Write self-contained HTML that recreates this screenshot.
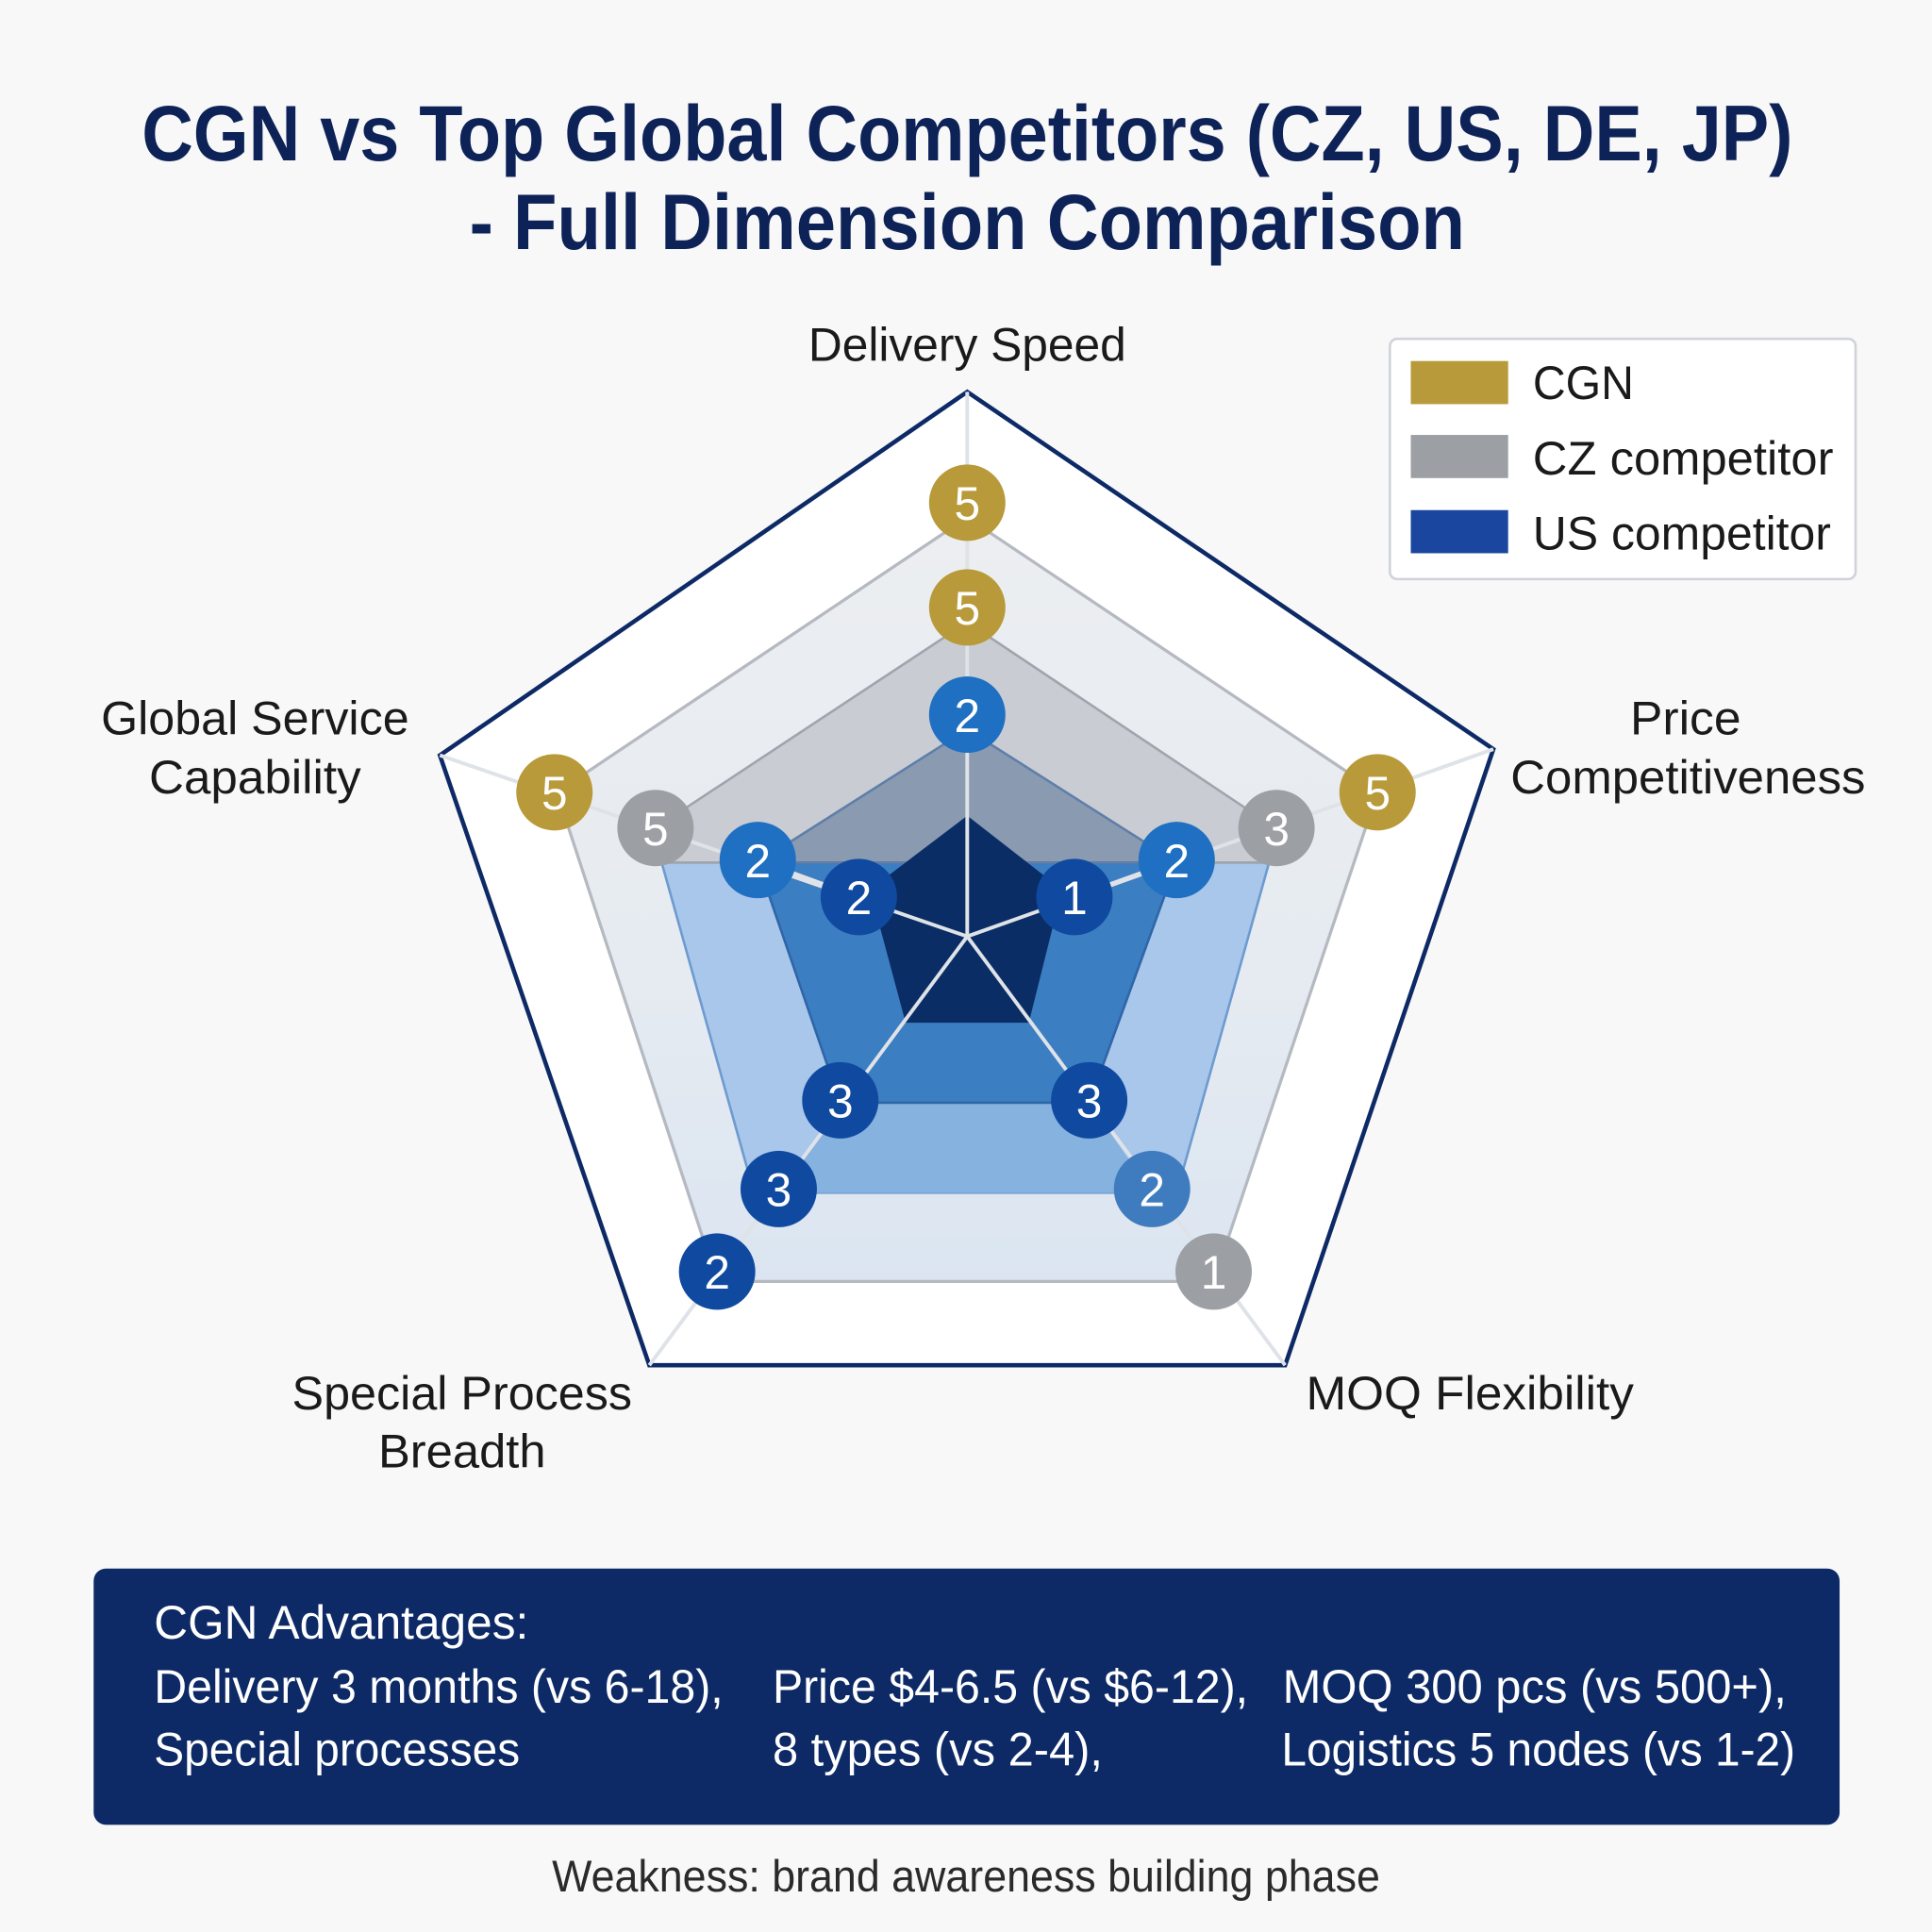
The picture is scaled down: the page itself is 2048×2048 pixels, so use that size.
<!DOCTYPE html>
<html><head><meta charset="utf-8"><style>
html,body{margin:0;padding:0;background:#f8f8f9;}
svg{display:block;}
text{font-family:"Liberation Sans",sans-serif;}
</style></head><body>
<svg width="2048" height="2048" viewBox="0 0 1568 1568" xmlns="http://www.w3.org/2000/svg">
<defs>
<linearGradient id="g2" x1="0" y1="0" x2="0" y2="1">
<stop offset="0" stop-color="#eceef1"/><stop offset="0.6" stop-color="#e6ebf1"/><stop offset="1" stop-color="#dbe5f1"/>
</linearGradient>
</defs>
<rect width="1568" height="1568" fill="#f8f8f9"/>
<text x="785" y="130" font-size="64" font-weight="bold" fill="#0d2257" text-anchor="middle" textLength="1340" lengthAdjust="spacingAndGlyphs">CGN vs Top Global Competitors (CZ, US, DE, JP)</text>
<text x="785" y="202" font-size="64" font-weight="bold" fill="#0d2257" text-anchor="middle" textLength="808" lengthAdjust="spacingAndGlyphs">- Full Dimension Comparison</text>

<polygon points="785,318 1212,608 1043,1108 527,1108 357,613" fill="#ffffff" stroke="#0d2a66" stroke-width="3.5"/>
<polygon points="785,420 1118,643 985,1040 582,1040 452,643" fill="url(#g2)" stroke="#b5b9c0" stroke-width="2.5"/>
<polygon points="537,700 1030,700 955,968 612,968" fill="#a9c7ea" stroke="#6d9bd0" stroke-width="2"/>
<polygon points="532,672 785,505 1035,672 1030,700 537,700" fill="#c9ccd3" stroke="#a0a5ad" stroke-width="2"/>
<polygon points="682,895 884,895 935,968 632,968" fill="#86b2e0"/>
<polygon points="615,700 955,700 884,895 682,895" fill="#3c7ec2" stroke="#2f66a8" stroke-width="2"/>
<polygon points="785,592 955,700 615,700" fill="#8a9ab1" stroke="#5f7fa8" stroke-width="2"/>
<polygon points="785,662 862,722 835,830 735,830 706,722" fill="#0a2d66"/>
<g stroke="#dfe3e8" stroke-width="3">
<line x1="785" y1="760" x2="785" y2="318"/>
<line x1="785" y1="760" x2="1212" y2="608"/>
<line x1="785" y1="760" x2="1043" y2="1108"/>
<line x1="785" y1="760" x2="527" y2="1108"/>
<line x1="785" y1="760" x2="357" y2="613"/>
<line x1="615" y1="698" x2="697" y2="728"/>
<line x1="955" y1="698" x2="872" y2="728"/>
</g>
<g font-size="38" fill="#fff" text-anchor="middle">
<g fill="#b89a3a"><circle cx="785" cy="408" r="31"/><circle cx="785" cy="493" r="31"/><circle cx="450" cy="643" r="31"/><circle cx="1118" cy="643" r="31"/></g>
<g fill="#9c9fa4"><circle cx="532" cy="672" r="31"/><circle cx="1036" cy="672" r="31"/><circle cx="985" cy="1032" r="31"/></g>
<g fill="#1f6fc2"><circle cx="785" cy="580" r="31"/><circle cx="615" cy="698" r="31"/><circle cx="955" cy="698" r="31"/></g>
<circle cx="935" cy="965" r="31" fill="#3f7cbf"/>
<g fill="#0f4aa0"><circle cx="697" cy="728" r="31"/><circle cx="872" cy="728" r="31"/><circle cx="682" cy="893" r="31"/><circle cx="884" cy="893" r="31"/><circle cx="632" cy="965" r="31"/><circle cx="582" cy="1032" r="31"/></g>
<g fill="#ffffff">
<text x="785" y="422">5</text><text x="785" y="507">5</text><text x="450" y="657">5</text><text x="1118" y="657">5</text>
<text x="532" y="686">5</text><text x="1036" y="686">3</text><text x="985" y="1046">1</text>
<text x="785" y="594">2</text><text x="615" y="712">2</text><text x="955" y="712">2</text><text x="935" y="979">2</text>
<text x="697" y="742">2</text><text x="872" y="742">1</text><text x="682" y="907">3</text><text x="884" y="907">3</text><text x="632" y="979">3</text><text x="582" y="1046">2</text>
</g>
</g>

<g font-size="38" fill="#1a1a1a" text-anchor="middle">
<text x="785" y="293" textLength="258" lengthAdjust="spacingAndGlyphs">Delivery Speed</text>
<text x="207" y="596" textLength="250" lengthAdjust="spacingAndGlyphs">Global Service</text>
<text x="207" y="644" textLength="172" lengthAdjust="spacingAndGlyphs">Capability</text>
<text x="1368" y="596" textLength="90" lengthAdjust="spacingAndGlyphs">Price</text>
<text x="1370" y="644" textLength="288" lengthAdjust="spacingAndGlyphs">Competitiveness</text>
<text x="375" y="1144" textLength="276" lengthAdjust="spacingAndGlyphs">Special Process</text>
<text x="375" y="1191" textLength="136" lengthAdjust="spacingAndGlyphs">Breadth</text>
<text x="1193" y="1144" textLength="266" lengthAdjust="spacingAndGlyphs">MOQ Flexibility</text>
</g>

<rect x="1128" y="275" width="378" height="195" rx="6" fill="#ffffff" stroke="#d0d3d8" stroke-width="2"/>
<rect x="1145" y="293" width="79" height="35" fill="#b89a3a"/>
<rect x="1145" y="353" width="79" height="35" fill="#9c9fa4"/>
<rect x="1145" y="414" width="79" height="35" fill="#1a46a0"/>
<g font-size="38" fill="#1a1a1a">
<text x="1244" y="324" textLength="82" lengthAdjust="spacingAndGlyphs">CGN</text>
<text x="1244" y="385" textLength="244" lengthAdjust="spacingAndGlyphs">CZ competitor</text>
<text x="1244" y="446" textLength="242" lengthAdjust="spacingAndGlyphs">US competitor</text>
</g>

<rect x="76" y="1273" width="1417" height="208" rx="10" fill="#0d2a66"/>
<g font-size="38" fill="#ffffff">
<text x="125" y="1330" textLength="304" lengthAdjust="spacingAndGlyphs">CGN Advantages:</text>
<text x="125" y="1382" textLength="462" lengthAdjust="spacingAndGlyphs">Delivery 3 months (vs 6-18),</text>
<text x="627" y="1382" textLength="386" lengthAdjust="spacingAndGlyphs">Price $4-6.5 (vs $6-12),</text>
<text x="1041" y="1382" textLength="409" lengthAdjust="spacingAndGlyphs">MOQ 300 pcs (vs 500+),</text>
<text x="125" y="1433" textLength="297" lengthAdjust="spacingAndGlyphs">Special processes</text>
<text x="627" y="1433" textLength="268" lengthAdjust="spacingAndGlyphs">8 types (vs 2-4),</text>
<text x="1040" y="1433" textLength="417" lengthAdjust="spacingAndGlyphs">Logistics 5 nodes (vs 1-2)</text>
</g>
<text x="784" y="1535" font-size="36" fill="#2a2a2a" text-anchor="middle" textLength="672" lengthAdjust="spacingAndGlyphs">Weakness: brand awareness building phase</text>
</svg>
</body></html>
